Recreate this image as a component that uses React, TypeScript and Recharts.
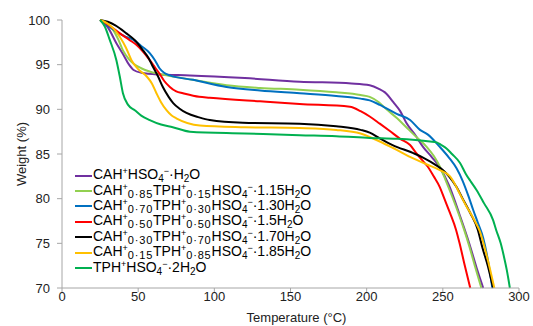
import React from 'react';
import { LineChart, Line, XAxis, YAxis, Legend } from 'recharts';

// ---- data (temperature °C, weight %) ----
const cahH2O: [number, number][] = [
  [25, 100], [30, 99.2], [35.7, 97.4], [40, 96.2], [44, 95.0], [47, 94.4], [52, 94.1], [64, 93.9],
  [84, 93.8], [120, 93.5], [156, 93.1], [190, 92.9], [202, 92.7], [208, 92.3], [212, 91.9],
  [217.5, 90.8], [222, 89.8], [226, 88.5], [232, 87.1], [237, 85.8], [243, 84.6], [248, 83.5],
  [254, 81.5], [261, 78.2], [266, 75.7], [270, 73.5], [273, 71.8], [276.5, 70],
];
const cah085: [number, number][] = [
  [25, 100], [30, 99.5], [33.5, 98.9], [37, 97.8], [40, 96.6], [44, 95.6], [47, 95.1], [52, 94.6],
  [58, 94.2], [68.6, 93.8], [86, 93.3], [108, 92.7], [130, 92.4], [156, 92.2], [180, 91.9],
  [196, 91.6], [202, 91.4], [208, 90.8], [213, 90.0], [220, 89.0], [226, 88.0], [232, 87.0],
  [239.4, 85.8], [244, 84.8], [248, 83.6], [252, 82.0], [256, 80.3], [261, 78.0], [264, 76.5],
  [267.5, 74.6], [271, 72.5], [275.3, 70],
];
const cah070: [number, number][] = [
  [25, 100], [30, 99.4], [35.7, 98.7], [41, 98.2], [46.6, 97.8], [52, 97.1], [57.6, 96.3],
  [61, 95.5], [64, 94.6], [67, 94.1], [70.8, 93.8], [86, 93.3], [108, 92.5], [130, 92.1],
  [156, 91.8], [180, 91.5], [196, 91.2], [202, 91.0], [208.6, 90.5], [219.7, 89.5], [228.5, 88.8],
  [235, 87.7], [240, 87.2], [248, 85.8], [254, 84.6], [259, 83.4], [263, 82.0], [267, 80.2],
  [270, 78.7], [273, 77.3], [276.5, 75.6], [279.5, 73.2], [282.5, 70],
];
const cah050: [number, number][] = [
  [25, 100], [30, 99.5], [38, 98.5], [44, 97.8], [49, 97.2], [53, 96.5], [57.6, 95.5], [61, 94.7],
  [64, 94.0], [67, 93.2], [70.8, 92.5], [75, 92.0], [79.4, 91.8], [90, 91.4], [97, 91.3],
  [130, 90.9], [156, 90.6], [189, 90.3], [196, 89.8], [202, 89.2], [208.6, 88.4], [215, 87.6],
  [222, 86.7], [228.5, 86.0], [233, 85.0], [237, 84.2], [240, 83.6], [244, 82.5], [248, 81.3],
  [251, 80.0], [254.7, 78.4], [258.7, 76.5], [261, 75.0], [264, 72.8], [268, 70],
];
const cah030: [number, number][] = [
  [25, 100], [30, 99.8], [35, 99.4], [42.3, 98.5], [48, 97.7], [53.2, 96.6], [57, 95.7],
  [59.6, 94.8], [63, 93.7], [66.2, 92.5], [70, 91.4], [73, 90.7], [77, 90.1], [81.7, 89.6],
  [90, 89.1], [97, 88.8], [118.8, 88.5], [156, 88.4], [180, 88.1], [196, 87.7], [202, 87.4],
  [208.6, 86.75], [217, 86.0], [230.6, 85.1], [237, 84.6], [246, 83.7], [250, 83.2], [254, 82.5],
  [259, 81.3], [263, 80.0], [268, 78.4], [273, 76.5], [276, 74.5], [279.5, 72.5], [283, 70],
];
const cah015: [number, number][] = [
  [25, 100], [30, 99.6], [34, 99.0], [38, 98.1], [42, 96.9], [45.6, 95.5], [50, 94.5],
  [55.5, 93.7], [59, 92.9], [62, 91.8], [65, 90.8], [68.6, 89.9], [72, 89.3], [75, 89.0],
  [90.5, 88.2], [120, 88.0], [156, 87.9], [180, 87.7], [196, 87.3], [202, 86.9], [208.6, 86.4],
  [217, 85.7], [230.6, 84.5], [240, 83.8], [248, 83.2], [254.7, 82.5], [258, 81.6], [261, 80.6],
  [265, 79.3], [270, 77.8], [274.4, 76.3], [279, 73.5], [283.8, 70],
];
const tphH2O: [number, number][] = [
  [25, 100], [28, 99.3], [31.3, 97.8], [35.7, 95.5], [37.9, 93.7], [40, 91.8], [43.4, 90.5],
  [47.8, 89.9], [52, 89.3], [57.6, 88.8], [65, 88.3], [72.7, 88.0], [84, 87.5], [120, 87.3],
  [156, 87.1], [180, 87.0], [202, 86.8], [220, 86.7], [241.6, 86.4], [246, 86.3], [249, 86.0],
  [252.6, 85.6], [256, 85.0], [261.3, 84.0], [265, 82.8], [268, 82.0], [272, 81.0], [277, 79.5],
  [283, 77.6], [285, 76.5], [288, 75.0], [290, 73.6], [292, 72.0], [294, 70],
];

const xTicks = [0, 50, 100, 150, 200, 250, 300];
const yTicks = [70, 75, 80, 85, 90, 95, 100];

const seriesNames = [
  'CAH^{+}HSO_{4}^{−}·H_{2}O',
  'CAH^{+}_{0·85}TPH^{+}_{0·15}HSO_{4}^{−}·1.15H_{2}O',
  'CAH^{+}_{0·70}TPH^{+}_{0·30}HSO_{4}^{−}·1.30H_{2}O',
  'CAH^{+}_{0·50}TPH^{+}_{0·50}HSO_{4}^{−}·1.5H_{2}O',
  'CAH^{+}_{0·30}TPH^{+}_{0·70}HSO_{4}^{−}·1.70H_{2}O',
  'CAH^{+}_{0·15}TPH^{+}_{0·85}HSO_{4}^{−}·1.85H_{2}O',
  'TPH^{+}HSO_{4}^{−}·2H_{2}O',
];
const seriesData = [cahH2O, cah085, cah070, cah050, cah030, cah015, tphH2O];
const seriesColors = ['#7030A0', '#92D050', '#0070C0', '#FF0000', '#000000', '#FFC000', '#00B050'];

const FONT = '"Liberation Sans", Arial, sans-serif';

function renderRich(s: string) {
  const parts = s.split(/(\^\{[^}]*\}|_\{[^}]*\})/).filter((p) => p.length > 0);
  return parts.map((p, i) => {
    if (p.startsWith('^{')) {
      return (
        <span key={i} style={{ fontSize: 9, position: 'relative', top: -5 }}>
          {p.slice(2, -1)}
        </span>
      );
    }
    if (p.startsWith('_{')) {
      const txt = p.slice(2, -1);
      const long = txt.length > 1;
      return (
        <span key={i} style={{ fontSize: long ? 11 : 10, position: 'relative', top: 3, letterSpacing: long ? 0.8 : 0 }}>
          {txt}
        </span>
      );
    }
    return <span key={i}>{p}</span>;
  });
}

const LegendContent = () => (
  <div style={{ fontFamily: FONT, fontSize: 14, color: '#000' }}>
    {seriesNames.map((n, i) => (
      <div key={i} style={{ display: 'flex', alignItems: 'center', height: 15.4, whiteSpace: 'nowrap', lineHeight: '15px' }}>
        <span style={{ display: 'inline-block', width: 17, height: 2, background: seriesColors[i], marginRight: 1 }} />
        <span>{renderRich(n)}</span>
      </div>
    ))}
  </div>
);

const YTitle = (props: any) => {
  const vb = props.viewBox || { x: 0, y: 0, width: 0, height: 0 };
  const cx = 21;
  const cy = vb.y + vb.height / 2;
  return (
    <text x={cx} y={cy} transform={`rotate(-90 ${cx} ${cy})`} textAnchor="middle" dominantBaseline="central"
      fontFamily={FONT} fontSize={13} fill="#222">
      Weight (%)
    </text>
  );
};

export default function App() {
  return (
    <div style={{ position: 'absolute', left: 0, top: 0, background: '#fff' }}>
      <LineChart width={533} height={326} margin={{ top: 20, right: 14, bottom: 0, left: 10 }}>
        <XAxis
          type="number"
          dataKey="t"
          domain={[0, 300]}
          ticks={xTicks}
          height={38}
          tickSize={4}
          tickMargin={0}
          stroke="#A6A6A6"
          tick={{ fill: '#222', fontSize: 13, fontFamily: FONT }}
          label={{ value: 'Temperature (°C)', position: 'insideBottom', offset: 4, dx: 6, fill: '#222', fontSize: 13, fontFamily: FONT }}
        />
        <YAxis
          type="number"
          domain={[70, 100]}
          ticks={yTicks}
          width={52}
          tickSize={5}
          tickMargin={7}
          stroke="#A6A6A6"
          tick={{ fill: '#222', fontSize: 13, fontFamily: FONT }}
          label={YTitle}
        />
        <Legend
          layout="vertical"
          align="center"
          verticalAlign="middle"
          content={LegendContent}
          wrapperStyle={{ left: 75, top: 168, width: 280 }}
        />
        {seriesData.map((d, i) => (
          <Line
            key={i}
            data={d.map(([t, w]) => ({ t, w }))}
            dataKey="w"
            name={seriesNames[i]}
            type="monotone"
            stroke={seriesColors[i]}
            strokeWidth={2}
            dot={false}
            activeDot={false}
            isAnimationActive={false}
          />
        ))}
      </LineChart>
    </div>
  );
}
